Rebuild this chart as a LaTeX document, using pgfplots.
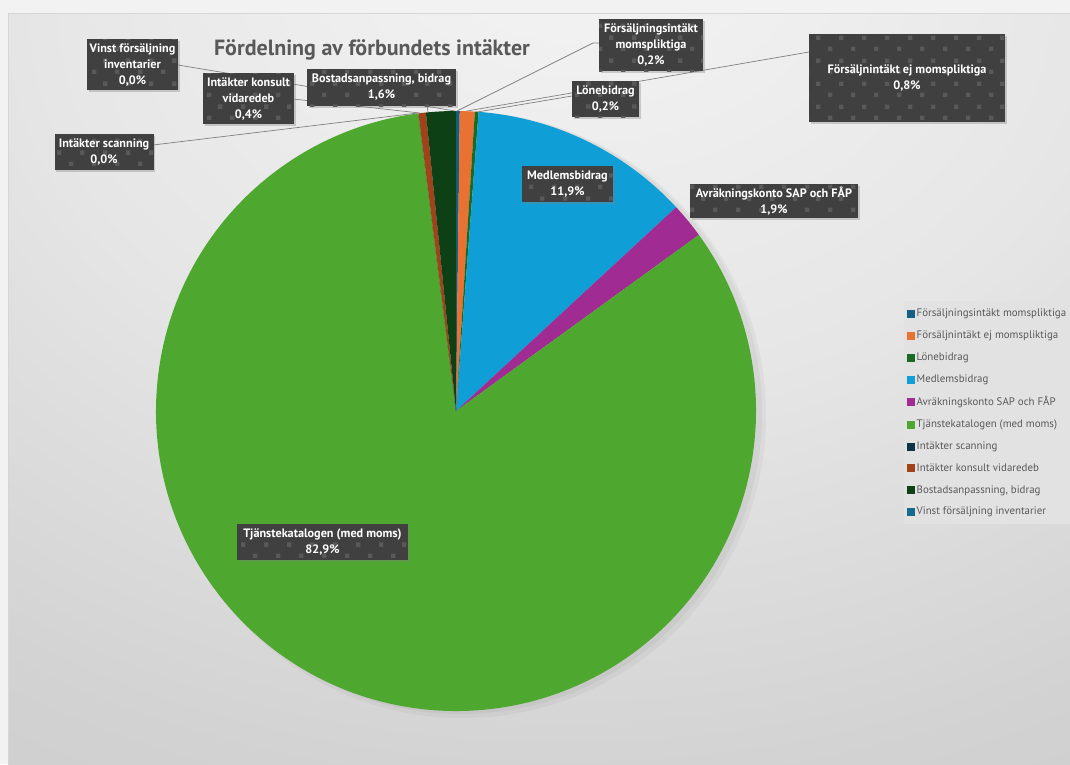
\documentclass[border=0pt]{standalone}
\usepackage{pgfplots}
\pgfplotsset{compat=1.18}
\usepackage{pgfplotstable}
\usepackage{fontspec}
\setmainfont{PT Sans}
\usetikzlibrary{patterns.meta,shadows}
\definecolor{cA}{HTML}{156082}
\definecolor{cB}{HTML}{E97132}
\definecolor{cC}{HTML}{196B24}
\definecolor{cD}{HTML}{0F9ED5}
\definecolor{cE}{HTML}{A02B93}
\definecolor{cF}{HTML}{4EA72E}
\definecolor{cG}{HTML}{0C3548}
\definecolor{cH}{HTML}{A0431A}
\definecolor{cI}{HTML}{0E4015}
\definecolor{cJ}{HTML}{146A8E}
\definecolor{lblbg}{HTML}{404040}
\definecolor{lbldot}{HTML}{595959}
\definecolor{titlec}{HTML}{595959}
\definecolor{legbg}{HTML}{E2E2E2}
\definecolor{outerbg}{HTML}{F2F2F2}
\definecolor{bgA}{HTML}{F5F5F5}
\definecolor{bgB}{HTML}{E6E6E6}
\definecolor{bgC}{HTML}{D2D2D2}
\definecolor{bgD}{HTML}{C3C3C3}
\definecolor{leader}{HTML}{808080}
\pgfdeclareradialshading{bgshade}{\pgfpoint{2bp}{33bp}}{color(0bp)=(bgA); color(25bp)=(bgB); color(45bp)=(bgC); color(72bp)=(bgD); color(100bp)=(bgD)}
\tikzdeclarepattern{name=sqdots, type=uncolored, bounding box={(0,0) and (23pt,23pt)}, tile size={(23pt,23pt)},
  code={\fill (0pt,0pt) rectangle (4.5pt,4.5pt); \fill (11.5pt,11.5pt) rectangle (16pt,16pt);}}

\pgfplotstableread[col sep=comma]{
value,color
0.2,cA
0.8,cB
0.2,cC
11.9,cD
1.9,cE
82.9,cF
0.0,cG
0.4,cH
1.6,cI
0.0,cJ
}\piedata

\tikzset{lbl/.style={fill=lblbg, text=white, align=center,
  font=\bfseries\fontsize{12.2}{16}\selectfont, inner sep=0pt,
  drop shadow={shadow xshift=1.5pt, shadow yshift=-1.5pt, opacity=0.35},
  postaction={pattern=sqdots, pattern color=lbldot}}}

\begin{document}
\begin{tikzpicture}
\begin{axis}[
  at={(0pt,0pt)}, anchor=south west,
  scale only axis, width=1070pt, height=764pt,
  xmin=0, xmax=1070, ymin=0, ymax=764, y dir=reverse,
  hide axis, clip=false,
  legend style={at={(axis description cs:0.8449,0.6060)}, anchor=north west,
    draw=none, fill=legbg, text=titlec,
    font=\fontsize{10.9}{13}\selectfont, row sep=8.6pt,
    inner xsep=3pt, inner ysep=6pt, cells={anchor=west}},
  legend image code/.code={\fill[#1] (0pt,-3.5pt) rectangle (7pt,3.5pt);},
]
% background
\fill[outerbg] (axis cs:0,0) rectangle (axis cs:1070,764);
\shade[shading=bgshade] (axis cs:8,13) rectangle (axis cs:1070,764);
\draw[draw=black!16, line width=0.8pt] (axis cs:8,764) -- (axis cs:8,13) -- (axis cs:1070,13);
% soft pie shadow (to the right)
\fill[black, opacity=0.035] (axis cs:463,415) circle[radius=303pt];
\fill[black, opacity=0.035] (axis cs:461,413) circle[radius=301pt];
% pie slices (percentages; total 99.9)
\def\cum{0}
\pgfplotsforeachungrouped \i in {0,...,9}{%
  \pgfplotstablegetelem{\i}{value}\of\piedata \let\v\pgfplotsretval
  \pgfplotstablegetelem{\i}{color}\of\piedata \let\c\pgfplotsretval
  \pgfmathsetmacro\a{90-\cum*3.603604}%
  \pgfmathsetmacro\b{90-(\cum+\v)*3.603604}%
  \edef\temp{\noexpand\fill[\c] (axis cs:456,411) -- ++(\a:300pt) arc[start angle=\a,end angle=\b,radius=300pt] -- cycle;}%
  \temp
  \pgfmathsetmacro\cum{\cum+\v}%
}
% leader lines
\begin{scope}[draw=leader, line width=0.7pt]
\draw (axis cs:178,65) -- (axis cs:455,111);
\draw (axis cs:293,99) -- (axis cs:420,113);
\draw (axis cs:427,105) -- (axis cs:428,112);
\draw (axis cs:153,145) -- (axis cs:418,113);
\draw (axis cs:599,43) -- (axis cs:593,43) -- (axis cs:457,111);
\draw (axis cs:572,96) -- (axis cs:477,112);
\draw (axis cs:809,52) -- (axis cs:467,111);
\end{scope}
% title
\node[font=\bfseries\fontsize{22}{26}\selectfont, text=titlec] at (axis cs:372,50) {Fördelning av förbundets intäkter};
% data labels
\node[lbl, minimum width=91pt, minimum height=51pt] at (axis cs:132.5,64.5) {Vinst försäljning\\inventarier\\0,0\%};
\node[lbl, minimum width=91pt, minimum height=51pt] at (axis cs:248.5,98.5) {Intäkter konsult\\vidaredeb\\0,4\%};
\node[lbl, minimum width=149pt, minimum height=37pt] at (axis cs:381.5,87.5) {Bostadsanpassning, bidrag\\1,6\%};
\node[lbl, minimum width=99pt, minimum height=36pt] at (axis cs:104,152) {Intäkter scanning\\0,0\%};
\node[lbl, minimum width=104pt, minimum height=52pt] at (axis cs:651,45) {Försäljningsintäkt\\momspliktiga\\0,2\%};
\node[lbl, minimum width=67pt, minimum height=36pt] at (axis cs:605.5,99) {Lönebidrag\\0,2\%};
\node[lbl, minimum width=196pt, minimum height=88pt] at (axis cs:907,78) {Försäljnintäkt ej momspliktiga\\0,8\%};
\node[lbl, minimum width=91pt, minimum height=36pt] at (axis cs:567.5,184) {Medlemsbidrag\\11,9\%};
\node[lbl, minimum width=168pt, minimum height=34pt] at (axis cs:774,201) {Avräkningskonto SAP och FÅP\\1,9\%};
\node[lbl, minimum width=171pt, minimum height=36pt] at (axis cs:322.5,542) {Tjänstekatalogen (med moms)\\82,9\%};
% legend
\addlegendimage{cA}\addlegendentry{Försäljningsintäkt momspliktiga}
\addlegendimage{cB}\addlegendentry{Försäljnintäkt ej momspliktiga}
\addlegendimage{cC}\addlegendentry{Lönebidrag}
\addlegendimage{cD}\addlegendentry{Medlemsbidrag}
\addlegendimage{cE}\addlegendentry{Avräkningskonto SAP och FÅP}
\addlegendimage{cF}\addlegendentry{Tjänstekatalogen (med moms)}
\addlegendimage{cG}\addlegendentry{Intäkter scanning}
\addlegendimage{cH}\addlegendentry{Intäkter konsult vidaredeb}
\addlegendimage{cI}\addlegendentry{Bostadsanpassning, bidrag}
\addlegendimage{cJ}\addlegendentry{Vinst försäljning inventarier}
\end{axis}
\pgfresetboundingbox
\path[use as bounding box] (0pt,0pt) rectangle (1070pt,764pt);
\end{tikzpicture}
\end{document}
